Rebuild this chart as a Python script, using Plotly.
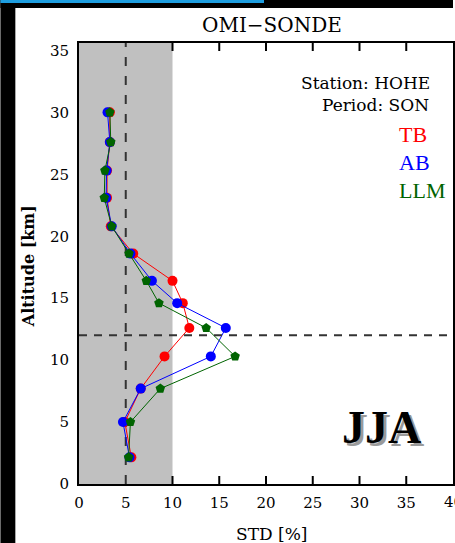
import plotly.graph_objects as go

# Data
altitude = [2.15, 5.0, 7.7, 10.3, 12.6, 14.6, 16.4, 18.6, 20.8, 23.1, 25.3, 27.6, 30.0]
std_tb = [5.6, 4.9, 6.6, 9.15, 11.8, 11.1, 10.0, 5.8, 3.4, 3.0, 3.0, 3.3, 3.3]
std_ab = [5.4, 4.7, 6.6, 14.1, 15.7, 10.5, 7.8, 5.5, 3.5, 2.9, 2.95, 3.3, 3.05]
std_llm = [5.3, 5.5, 8.7, 16.7, 13.6, 8.55, 7.2, 5.35, 3.5, 2.7, 2.77, 3.4, 3.3]

x_ticks = [0, 5, 10, 15, 20, 25, 30, 35, 40]
x_marked_ticks = [15, 20, 25, 30, 35]
y_ticks = [0, 5, 10, 15, 20, 25, 30, 35]

W, H = 455, 543
L, R, T, B = 79, 0, 43, 59
PW = W - L - R
PH = H - T - B


def px(xp):
    return (xp - L) / PW


def py(yp):
    return (H - B - yp) / PH


SERIF = "DejaVu Serif"

fig = go.Figure()

series = [
    ("TB", std_tb, "#ff0000", "circle"),
    ("AB", std_ab, "#0000ff", "circle"),
    ("LLM", std_llm, "#006400", "pentagon"),
]
for name, vals, col, sym in series:
    fig.add_trace(go.Scatter(
        x=vals, y=altitude, mode="lines+markers", name=name,
        line=dict(color=col, width=1),
        marker=dict(color=col, size=10, symbol=sym, line=dict(width=0)),
        showlegend=False, hoverinfo="skip",
    ))

tick_len = 8 / PH
shapes = [
    # grey shading 0-10 %
    dict(type="rect", xref="x", yref="paper", x0=0, x1=10, y0=0, y1=1,
         fillcolor="#c0c0c0", line=dict(width=0), layer="below"),
    # vertical dashed line at 5 %
    dict(type="line", xref="x", yref="paper", x0=5, x1=5, y0=0, y1=1,
         line=dict(color="#333333", width=2, dash="9px,10px"), layer="below"),
    # horizontal dashed line at 12 km
    dict(type="line", xref="paper", yref="y", x0=0, x1=1, y0=12, y1=12,
         line=dict(color="#333333", width=2, dash="8px,7px"), layer="above"),
]
# inward tick marks (outside the grey band) on bottom and top axes
for v in x_marked_ticks + [10]:
    shapes.append(dict(type="line", xref="x", yref="paper", x0=v, x1=v, y0=0, y1=tick_len,
                       line=dict(color="black", width=2), layer="above"))
    shapes.append(dict(type="line", xref="x", yref="paper", x0=v, x1=v, y0=1 - tick_len, y1=1,
                       line=dict(color="black", width=2), layer="above"))
# black frame pieces of the screenshot
shapes += [
    dict(type="rect", xref="paper", yref="paper", x0=px(0), x1=px(15),
         y0=py(H), y1=py(0), fillcolor="black", line=dict(width=0), layer="above"),
    dict(type="rect", xref="paper", yref="paper", x0=px(0), x1=px(W),
         y0=py(8), y1=py(0), fillcolor="black", line=dict(width=0), layer="above"),
    dict(type="rect", xref="paper", yref="paper", x0=px(0), x1=px(265),
         y0=py(3), y1=py(0), fillcolor="#1e9ee0", line=dict(width=0), layer="above"),
]

annotations = [
    dict(text="OMI\u2212SONDE", x=px(273), y=py(25), xref="paper", yref="paper",
         showarrow=False, font=dict(family=SERIF, size=20, color="black"),
         xanchor="center", yanchor="middle"),
    dict(text="STD [%]", x=px(273), y=py(534), xref="paper", yref="paper",
         showarrow=False, font=dict(family=SERIF, size=17, color="black"),
         xanchor="center", yanchor="middle"),
    dict(text="<b>Altitude [km]</b>", x=px(28), y=py(266), xref="paper", yref="paper",
         showarrow=False, textangle=-90, font=dict(family=SERIF, size=16, color="black"),
         xanchor="center", yanchor="middle"),
    dict(text="Station: HOHE", x=px(434), y=py(83), xref="paper", yref="paper",
         showarrow=False, font=dict(family=SERIF, size=17, color="black"),
         xanchor="right", yanchor="middle"),
    dict(text="Period: SON", x=px(433), y=py(105), xref="paper", yref="paper",
         showarrow=False, font=dict(family=SERIF, size=17, color="black"),
         xanchor="right", yanchor="middle"),
    dict(text="TB", x=px(399), y=py(134), xref="paper", yref="paper",
         showarrow=False, font=dict(family="Liberation Serif", size=22, color="#ff0000"),
         xanchor="left", yanchor="middle"),
    dict(text="AB", x=px(399), y=py(162), xref="paper", yref="paper",
         showarrow=False, font=dict(family="Liberation Serif", size=22, color="#0000ff"),
         xanchor="left", yanchor="middle"),
    dict(text="LLM", x=px(399), y=py(190), xref="paper", yref="paper",
         showarrow=False, font=dict(family="Liberation Serif", size=22, color="#006400"),
         xanchor="left", yanchor="middle"),
    dict(text="<b>JJA</b>", x=px(386), y=py(430), xref="paper", yref="paper",
         showarrow=False, font=dict(family="Liberation Serif", size=46, color="#9a9a9a"),
         xanchor="center", yanchor="middle"),
    dict(text="<b>JJA</b>", x=px(383), y=py(427), xref="paper", yref="paper",
         showarrow=False, font=dict(family="Liberation Serif", size=46, color="black"),
         xanchor="center", yanchor="middle"),
    # last x tick label, cut by the window edge as in the reference
    dict(text=str(x_ticks[-1]), x=1, y=py(502), xref="paper", yref="paper",
         showarrow=False, font=dict(family=SERIF, size=15, color="black"),
         xanchor="center", yanchor="middle"),
]

fig.update_layout(
    width=W, height=H,
    margin=dict(l=L, r=R, t=T, b=B, pad=0),
    paper_bgcolor="white", plot_bgcolor="white",
    shapes=shapes, annotations=annotations,
    xaxis=dict(range=[0, 40], tickvals=x_ticks[:-1], ticktext=[str(v) for v in x_ticks[:-1]],
               ticks="", showgrid=False, zeroline=False, showline=True,
               linecolor="black", linewidth=2, mirror=True,
               tickfont=dict(family=SERIF, size=15, color="black"),
               ticklabelstandoff=4),
    yaxis=dict(range=[0, 35.6], tickvals=y_ticks, ticktext=[str(v) for v in y_ticks],
               ticks="", showgrid=False, zeroline=False, showline=True,
               linecolor="black", linewidth=2, mirror=True,
               tickfont=dict(family=SERIF, size=15, color="black"),
               ticklabelstandoff=5),
)

fig.write_html("out.html")
